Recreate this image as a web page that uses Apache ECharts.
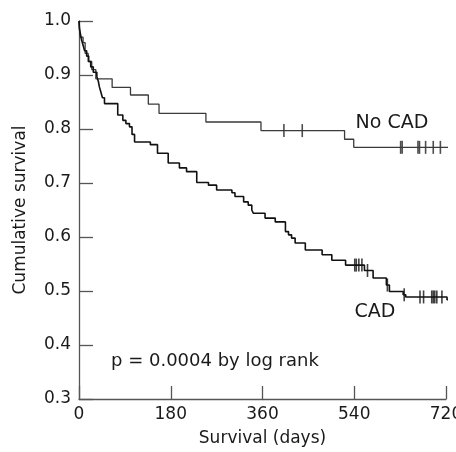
<!DOCTYPE html>
<html>
<head>
<meta charset="utf-8">
<script src="https://cdn.jsdelivr.net/npm/echarts@6/dist/echarts.min.js"></script>
<style>
html,body{margin:0;padding:0;background:#fff;}
#chart{width:456px;height:452px;}
</style>
</head>
<body>
<div id="chart"></div>
<script>
// X axis ticks (days) and Y axis range
const xTicks = [0, 180, 360, 540, 720];
const yTicks = [0.3, 0.4, 0.5, 0.6, 0.7, 0.8, 0.9, 1.0];

// No CAD group: step points (day of event, survival after event)
const noCadDays = [0, 2, 8, 12, 18, 25, 33, 65, 101, 136, 157, 249, 357, 521, 539, 742];
const noCadSurv = [1.0, 0.97, 0.96, 0.94, 0.925, 0.91, 0.893, 0.877, 0.863, 0.846, 0.829, 0.813, 0.797, 0.781, 0.766, 0.766];
const noCadCensored = [402, 438, 631, 634, 665, 668, 680, 695, 709];

// CAD group
const cadDays = [0, 1, 3, 5, 8, 11, 15, 19, 23, 28, 35, 38, 40, 43, 46, 50, 76, 86, 92, 99, 104, 109, 140, 154, 175, 197, 211, 231, 254, 270, 300, 306, 323, 332, 339, 342, 365, 385, 405, 411, 417, 424, 444, 477, 496, 523, 560, 577, 603, 609, 636, 641, 722, 728, 738];
const cadSurv = [1.0, 0.985, 0.975, 0.965, 0.955, 0.945, 0.935, 0.925, 0.915, 0.905, 0.897, 0.888, 0.878, 0.868, 0.858, 0.847, 0.826, 0.816, 0.810, 0.804, 0.790, 0.776, 0.771, 0.755, 0.737, 0.728, 0.721, 0.701, 0.696, 0.687, 0.682, 0.675, 0.665, 0.659, 0.650, 0.644, 0.635, 0.628, 0.610, 0.604, 0.598, 0.589, 0.576, 0.567, 0.557, 0.548, 0.538, 0.524, 0.511, 0.499, 0.493, 0.489, 0.484, 0.477, 0.477];
const cadCensored = [541, 544, 549, 555, 566, 605, 638, 669, 676, 692, 695, 698, 702, 712];

const labels = {noCad: 'No CAD', cad: 'CAD', pValue: 'p = 0.0004 by log rank', xName: 'Survival (days)', yName: 'Cumulative survival'};

function survAt(days, surv, d) {
  let v = surv[0];
  for (let i = 0; i < days.length; i++) { if (days[i] <= d) v = surv[i]; }
  return v;
}
const zip = (a, b) => a.map((x, i) => [x, b[i]]);

const FONT = '"DejaVu Sans", sans-serif';
const chart = echarts.init(document.getElementById('chart'), null, {renderer: 'canvas'});
chart.setOption({
  animation: false,
  backgroundColor: '#fff',
  grid: {left: 79, right: 10, top: 21, bottom: 53, containLabel: false, outerBoundsMode: 'none'},
  xAxis: {
    type: 'value', min: xTicks[0], max: xTicks[xTicks.length - 1], interval: 180,
    name: labels.xName, nameLocation: 'middle', nameGap: 31,
    nameTextStyle: {fontSize: 17, color: '#1a1a1a', fontFamily: FONT},
    axisLine: {lineStyle: {color: '#555', width: 1.3}},
    axisTick: {inside: true, length: 13, lineStyle: {color: '#555', width: 1.3}},
    axisLabel: {fontSize: 17, color: '#1a1a1a', fontFamily: FONT, margin: 7, hideOverlap: false},
    splitLine: {show: false}
  },
  yAxis: {
    type: 'value', min: yTicks[0], max: yTicks[yTicks.length - 1], interval: 0.1,
    name: labels.yName, nameLocation: 'middle', nameGap: 50,
    nameTextStyle: {fontSize: 17, color: '#1a1a1a', fontFamily: FONT},
    axisLine: {show: true, lineStyle: {color: '#555', width: 1.3}},
    axisTick: {show: true, inside: true, length: 14, lineStyle: {color: '#555', width: 1.3}},
    axisLabel: {fontSize: 17, color: '#1a1a1a', fontFamily: FONT, margin: 8, formatter: v => v.toFixed(1)},
    splitLine: {show: false}
  },
  series: [
    {type: 'line', step: 'end', data: zip(noCadDays, noCadSurv), showSymbol: false, clip: false,
     lineStyle: {color: '#3a3a3a', width: 1.3}},
    {type: 'line', step: 'end', data: zip(cadDays, cadSurv), showSymbol: false, clip: false,
     lineStyle: {color: '#111', width: 1.6}},
    {type: 'scatter', data: noCadCensored.map(d => [d, survAt(noCadDays, noCadSurv, d)]), clip: false,
     symbol: 'rect', symbolSize: [1.6, 13], itemStyle: {color: '#222'}},
    {type: 'scatter', data: cadCensored.map(d => [d, survAt(cadDays, cadSurv, d)]), clip: false,
     symbol: 'rect', symbolSize: [1.6, 13], itemStyle: {color: '#111'}}
  ],
  graphic: [
    {type: 'text', style: {text: labels.noCad, x: 392, y: 123, textAlign: 'center', textVerticalAlign: 'middle', font: '19px ' + FONT, fill: '#1a1a1a'}},
    {type: 'text', style: {text: labels.cad, x: 375, y: 312, textAlign: 'center', textVerticalAlign: 'middle', font: '19px ' + FONT, fill: '#1a1a1a'}},
    {type: 'text', style: {text: labels.pValue, x: 111, y: 361, textAlign: 'left', textVerticalAlign: 'middle', font: '18px ' + FONT, fill: '#1a1a1a'}}
  ]
});
</script>
</body>
</html>
